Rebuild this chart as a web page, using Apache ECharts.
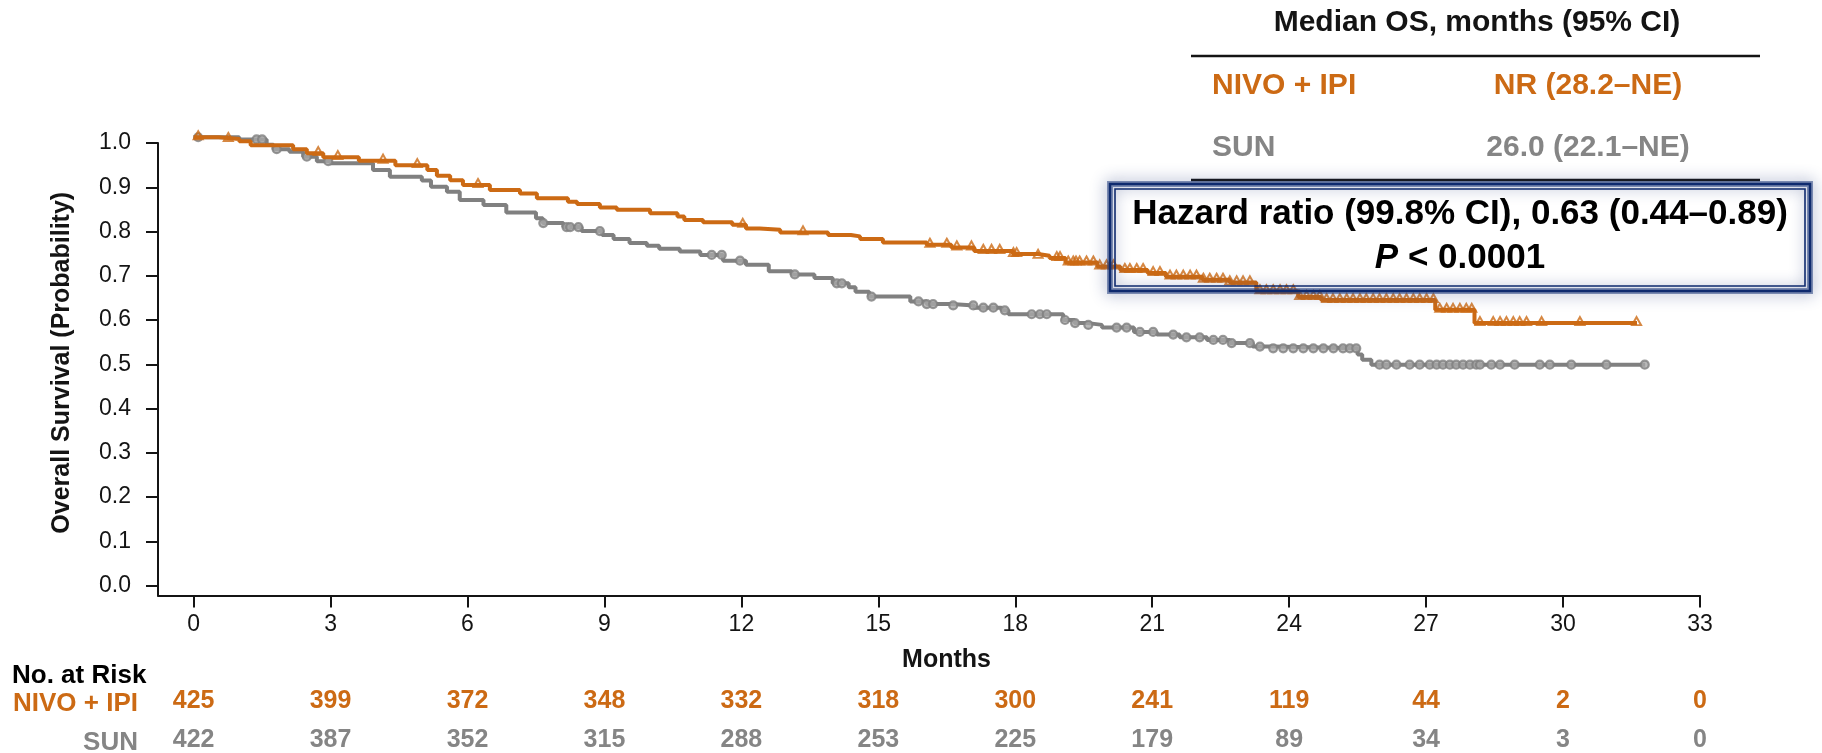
<!DOCTYPE html>
<html>
<head>
<meta charset="utf-8">
<script src="https://cdn.jsdelivr.net/npm/echarts@6/dist/echarts.min.js"></script>
<style>
  html, body { margin: 0; padding: 0; background: #fff; }
  #chart { width: 1822px; height: 753px; }
</style>
</head>
<body>
<div id="chart"></div>
<script>
// Kaplan–Meier overall survival, NIVO + IPI vs SUN

const FONT = '"Liberation Sans", Arial, Helvetica, sans-serif';
const ORANGE = '#CC6A14';
const GRAY = '#808080';
const GRAY_TEXT = '#858585';
const INK = '#141414';

// x axis ticks (months) and y axis ticks (probability)
const monthTicks = [0, 3, 6, 9, 12, 15, 18, 21, 24, 27, 30, 33];
const survTicks = [0, 0.1, 0.2, 0.3, 0.4, 0.5, 0.6, 0.7, 0.8, 0.9, 1.0];
const survTickLabels = ['0.0', '0.1', '0.2', '0.3', '0.4', '0.5', '0.6', '0.7', '0.8', '0.9', '1.0'];

// numbers at risk at each month tick
const riskNivoIpi = [425, 399, 372, 348, 332, 318, 300, 241, 119, 44, 2, 0];
const riskSun = [422, 387, 352, 315, 288, 253, 225, 179, 89, 34, 3, 0];

// step curves: [month, survival from that month on]
const nivoIpiCurve = [
  [0, 1.013], [0.55, 1.009], [1.0, 1.004], [1.25, 0.995], [2.18, 0.986], [2.48, 0.977],
  [2.84, 0.968], [3.62, 0.960], [4.42, 0.950], [5.12, 0.939], [5.33, 0.926], [5.62, 0.916],
  [5.9, 0.905], [6.49, 0.894], [7.15, 0.886], [7.52, 0.875], [8.2, 0.867], [8.4, 0.862],
  [8.9, 0.854], [9.27, 0.849], [10.0, 0.841], [10.6, 0.834], [10.75, 0.826], [11.16, 0.821],
  [11.8, 0.815], [12.1, 0.807], [12.4, 0.804], [12.85, 0.798], [13.9, 0.792], [14.4, 0.789],
  [14.6, 0.783], [15.1, 0.775], [16.06, 0.770], [16.6, 0.764], [17.1, 0.756], [17.95, 0.749],
  [18.5, 0.745], [18.75, 0.740], [19.1, 0.730], [19.8, 0.721], [20.3, 0.713], [20.9, 0.706],
  [21.3, 0.698], [22.1, 0.691], [22.7, 0.685], [23.28, 0.665], [24.2, 0.652], [24.7, 0.645],
  [27.2, 0.623], [28.06, 0.593], [31.62, 0.593]
];

const sunCurve = [
  [0, 1.013], [1.0, 1.008], [1.6, 0.996], [1.75, 0.986], [2.1, 0.980], [2.4, 0.969],
  [2.7, 0.959], [3.0, 0.954], [3.93, 0.939], [4.3, 0.924], [5.0, 0.915], [5.2, 0.901],
  [5.55, 0.890], [5.83, 0.871], [6.35, 0.860], [6.85, 0.843], [7.5, 0.830], [7.65, 0.819],
  [8.1, 0.810], [8.5, 0.801], [8.95, 0.792], [9.2, 0.783], [9.55, 0.774], [9.93, 0.768],
  [10.2, 0.761], [10.65, 0.755], [11.1, 0.747], [11.6, 0.734], [12.1, 0.725], [12.6, 0.710],
  [13.1, 0.703], [13.6, 0.695], [14.0, 0.683], [14.35, 0.674], [14.5, 0.664], [14.8, 0.653],
  [15.7, 0.642], [16.06, 0.636], [16.6, 0.633], [17.1, 0.628], [17.7, 0.622], [17.85, 0.613],
  [19.05, 0.600], [19.3, 0.593], [19.6, 0.589], [19.9, 0.583], [20.6, 0.573], [21.1, 0.567],
  [21.6, 0.561], [22.2, 0.555], [22.7, 0.548], [23.2, 0.540], [23.65, 0.536], [25.5, 0.522],
  [25.6, 0.510], [25.8, 0.499], [31.8, 0.499]
];

// censoring times (months)
const nivoIpiCensored = [
  0.1, 0.76, 2.73, 3.16, 4.15, 4.9, 6.23, 12.03, 13.35, 16.13, 16.5, 16.72, 17.04, 17.3, 17.48,
  17.66, 17.96, 18.03, 18.5, 18.91, 18.98, 19.16, 19.27, 19.33, 19.41, 19.56, 19.71, 19.85, 20.0,
  20.15, 20.4, 20.51, 20.66, 20.8, 21.02, 21.17, 21.39, 21.53, 21.68, 21.83, 21.97, 22.12, 22.26,
  22.41, 22.55, 22.7, 22.85, 22.99, 23.14, 23.36, 23.5, 23.65, 23.8, 23.94, 24.09, 24.23, 24.38,
  24.53, 24.67, 24.82, 24.96, 25.11, 25.26, 25.4, 25.55, 25.69, 25.84, 25.98, 26.13, 26.28, 26.42,
  26.57, 26.72, 26.86, 27.01, 27.16, 27.3, 27.45, 27.59, 27.74, 27.88, 28.0, 28.18, 28.47, 28.62,
  28.76, 28.91, 29.05, 29.2, 29.53, 30.37, 31.61
];

const sunCensored = [
  0.1, 1.38, 1.5, 1.82, 2.48, 2.95, 7.66, 8.17, 8.25, 8.43, 8.9, 11.35, 11.57, 11.97, 13.17,
  14.09, 14.2, 14.85, 15.88, 16.06, 16.2, 16.64, 17.08, 17.3, 17.52, 17.77, 18.36, 18.54, 18.69,
  19.09, 19.31, 19.6, 20.22, 20.44, 20.73, 21.02, 21.46, 21.75, 22.04, 22.34, 22.55, 22.74, 23.14,
  23.36, 23.65, 23.87, 24.09, 24.31, 24.53, 24.75, 24.97, 25.18, 25.33, 25.47, 25.98, 26.13, 26.35,
  26.64, 26.86, 27.08, 27.23, 27.37, 27.52, 27.66, 27.81, 27.96, 28.1, 28.18, 28.43, 28.62, 28.94,
  29.49, 29.71, 30.18, 30.95, 31.79
];

// survival level of a step curve at time t
function survivalAt(curve, t) {
  let s = curve[0][1];
  for (const [time, value] of curve) {
    if (time <= t) s = value; else break;
  }
  return s;
}

const censorPoints = (curve, times) => times.map(t => [t, survivalAt(curve, t)]);

const chart = echarts.init(document.getElementById('chart'), null, { renderer: 'canvas' });

const axisLineStyle = { color: INK, width: 2 };

const riskAxis = (counts, color, offset) => ({
  type: 'value',
  gridIndex: 0,
  position: 'bottom',
  min: -0.78,
  max: 33,
  offset: offset,
  axisLine: { show: false },
  axisTick: { show: false },
  splitLine: { show: false },
  axisLabel: {
    customValues: monthTicks,
    margin: 0,
    verticalAlign: 'middle',
    fontFamily: FONT,
    fontSize: 25,
    fontWeight: 'bold',
    color: color,
    formatter: v => String(counts[monthTicks.indexOf(v)])
  }
});

const option = {
  animation: false,
  backgroundColor: '#fff',
  textStyle: { fontFamily: FONT },
  grid: { left: 158, top: 143, width: 1542, height: 455, containLabel: false },
  xAxis: [
    {
      type: 'value',
      min: -0.78,
      max: 33,
      position: 'bottom',
      name: 'Months',
      nameLocation: 'middle',
      nameGap: 52,
      nameTextStyle: {
        fontFamily: FONT, fontSize: 25, fontWeight: 'bold', color: INK,
        padding: [0, 0, 0, 35]
      },
      axisLine: { show: true, onZero: false, lineStyle: axisLineStyle },
      axisTick: { show: true, customValues: monthTicks, length: 12, lineStyle: axisLineStyle },
      axisLabel: {
        customValues: monthTicks,
        margin: 18,
        fontFamily: FONT,
        fontSize: 23,
        color: INK
      },
      splitLine: { show: false }
    },
    riskAxis(riskNivoIpi, ORANGE, 106),
    riskAxis(riskSun, GRAY_TEXT, 145)
  ],
  yAxis: {
    type: 'value',
    min: -0.0225,
    max: 1.0,
    name: 'Overall Survival (Probability)',
    nameLocation: 'middle',
    nameGap: 83,
    nameTextStyle: {
      fontFamily: FONT, fontSize: 25, fontWeight: 'bold', color: INK,
      padding: [0, 0, 0, 13]
    },
    axisLine: { show: true, onZero: false, lineStyle: axisLineStyle },
    axisTick: { show: true, customValues: survTicks, length: 12, lineStyle: axisLineStyle },
    axisLabel: {
      customValues: survTicks,
      margin: 27,
      fontFamily: FONT,
      fontSize: 23,
      color: INK,
      formatter: v => survTickLabels[survTicks.findIndex(t => Math.abs(t - v) < 1e-6)]
    },
    splitLine: { show: false }
  },
  series: [
    {
      name: 'SUN',
      type: 'line',
      step: 'end',
      data: sunCurve,
      showSymbol: false,
      clip: false,
      lineStyle: { color: GRAY, width: 4 },
      z: 2
    },
    {
      name: 'SUN censored',
      type: 'scatter',
      data: censorPoints(sunCurve, sunCensored),
      symbol: 'circle',
      symbolSize: 8,
      clip: false,
      itemStyle: { color: '#a8a8a8', borderColor: GRAY, borderWidth: 2.2 },
      z: 3
    },
    {
      name: 'NIVO + IPI',
      type: 'line',
      step: 'end',
      data: nivoIpiCurve,
      showSymbol: false,
      clip: false,
      lineStyle: { color: ORANGE, width: 4 },
      z: 4
    },
    {
      name: 'NIVO + IPI censored',
      type: 'scatter',
      data: censorPoints(nivoIpiCurve, nivoIpiCensored),
      symbol: 'triangle',
      symbolSize: [9, 8],
      symbolOffset: [0, -2],
      clip: false,
      itemStyle: { color: 'rgba(255,255,255,0)', borderColor: ORANGE, borderWidth: 2 },
      z: 5
    }
  ],
  graphic: [
    // median OS table
    {
      type: 'text', z: 20, x: 1477, y: 23,
      style: {
        text: 'Median OS, months (95% CI)', align: 'center', verticalAlign: 'middle',
        fontFamily: FONT, fontSize: 30, fontWeight: 'bold', fill: INK
      }
    },
    {
      type: 'line', z: 20,
      shape: { x1: 1191, y1: 56, x2: 1760, y2: 56 },
      style: { stroke: INK, lineWidth: 2.5 }
    },
    {
      type: 'text', z: 20, x: 1212, y: 86,
      style: {
        text: 'NIVO + IPI', align: 'left', verticalAlign: 'middle',
        fontFamily: FONT, fontSize: 30, fontWeight: 'bold', fill: ORANGE
      }
    },
    {
      type: 'text', z: 20, x: 1588, y: 86,
      style: {
        text: 'NR (28.2–NE)', align: 'center', verticalAlign: 'middle',
        fontFamily: FONT, fontSize: 30, fontWeight: 'bold', fill: ORANGE
      }
    },
    {
      type: 'text', z: 20, x: 1212, y: 148,
      style: {
        text: 'SUN', align: 'left', verticalAlign: 'middle',
        fontFamily: FONT, fontSize: 30, fontWeight: 'bold', fill: GRAY_TEXT
      }
    },
    {
      type: 'text', z: 20, x: 1588, y: 148,
      style: {
        text: '26.0 (22.1–NE)', align: 'center', verticalAlign: 'middle',
        fontFamily: FONT, fontSize: 30, fontWeight: 'bold', fill: GRAY_TEXT
      }
    },
    {
      type: 'line', z: 20,
      shape: { x1: 1191, y1: 180, x2: 1760, y2: 180 },
      style: { stroke: INK, lineWidth: 2.5 }
    },
    // hazard ratio box with double border and soft glow
    {
      type: 'rect', z: 21,
      shape: { x: 1110, y: 184, width: 700, height: 107 },
      style: {
        fill: null, stroke: '#25407F', lineWidth: 6,
        shadowBlur: 16, shadowColor: 'rgba(40,60,125,0.9)', opacity: 0.55
      }
    },
    {
      type: 'rect', z: 22,
      shape: { x: 1110, y: 184, width: 700, height: 107 },
      style: { fill: null, stroke: '#0E2A6E', lineWidth: 2.5 }
    },
    {
      type: 'rect', z: 22,
      shape: { x: 1115, y: 189, width: 690, height: 97 },
      style: { fill: null, stroke: '#0E2A6E', lineWidth: 1.6 }
    },
    {
      type: 'text', z: 23, x: 1460, y: 214,
      style: {
        text: 'Hazard ratio (99.8% CI), 0.63 (0.44–0.89)', align: 'center', verticalAlign: 'middle',
        fontFamily: FONT, fontSize: 35, fontWeight: 'bold', fill: '#000'
      }
    },
    {
      type: 'text', z: 23, x: 1460, y: 258,
      style: {
        text: '{i|P} < 0.0001', align: 'center', verticalAlign: 'middle',
        fontFamily: FONT, fontSize: 35, fontWeight: 'bold', fill: '#000',
        rich: { i: { fontFamily: FONT, fontSize: 35, fontWeight: 'bold', fontStyle: 'italic', fill: '#000' } }
      }
    },
    // number-at-risk row labels
    {
      type: 'text', z: 20, x: 12, y: 676,
      style: {
        text: 'No. at Risk', align: 'left', verticalAlign: 'middle',
        fontFamily: FONT, fontSize: 26, fontWeight: 'bold', fill: '#000'
      }
    },
    {
      type: 'text', z: 20, x: 138, y: 704,
      style: {
        text: 'NIVO + IPI', align: 'right', verticalAlign: 'middle',
        fontFamily: FONT, fontSize: 26, fontWeight: 'bold', fill: ORANGE
      }
    },
    {
      type: 'text', z: 20, x: 138, y: 743,
      style: {
        text: 'SUN', align: 'right', verticalAlign: 'middle',
        fontFamily: FONT, fontSize: 26, fontWeight: 'bold', fill: GRAY_TEXT
      }
    }
  ]
};

chart.setOption(option);
</script>
</body>
</html>
